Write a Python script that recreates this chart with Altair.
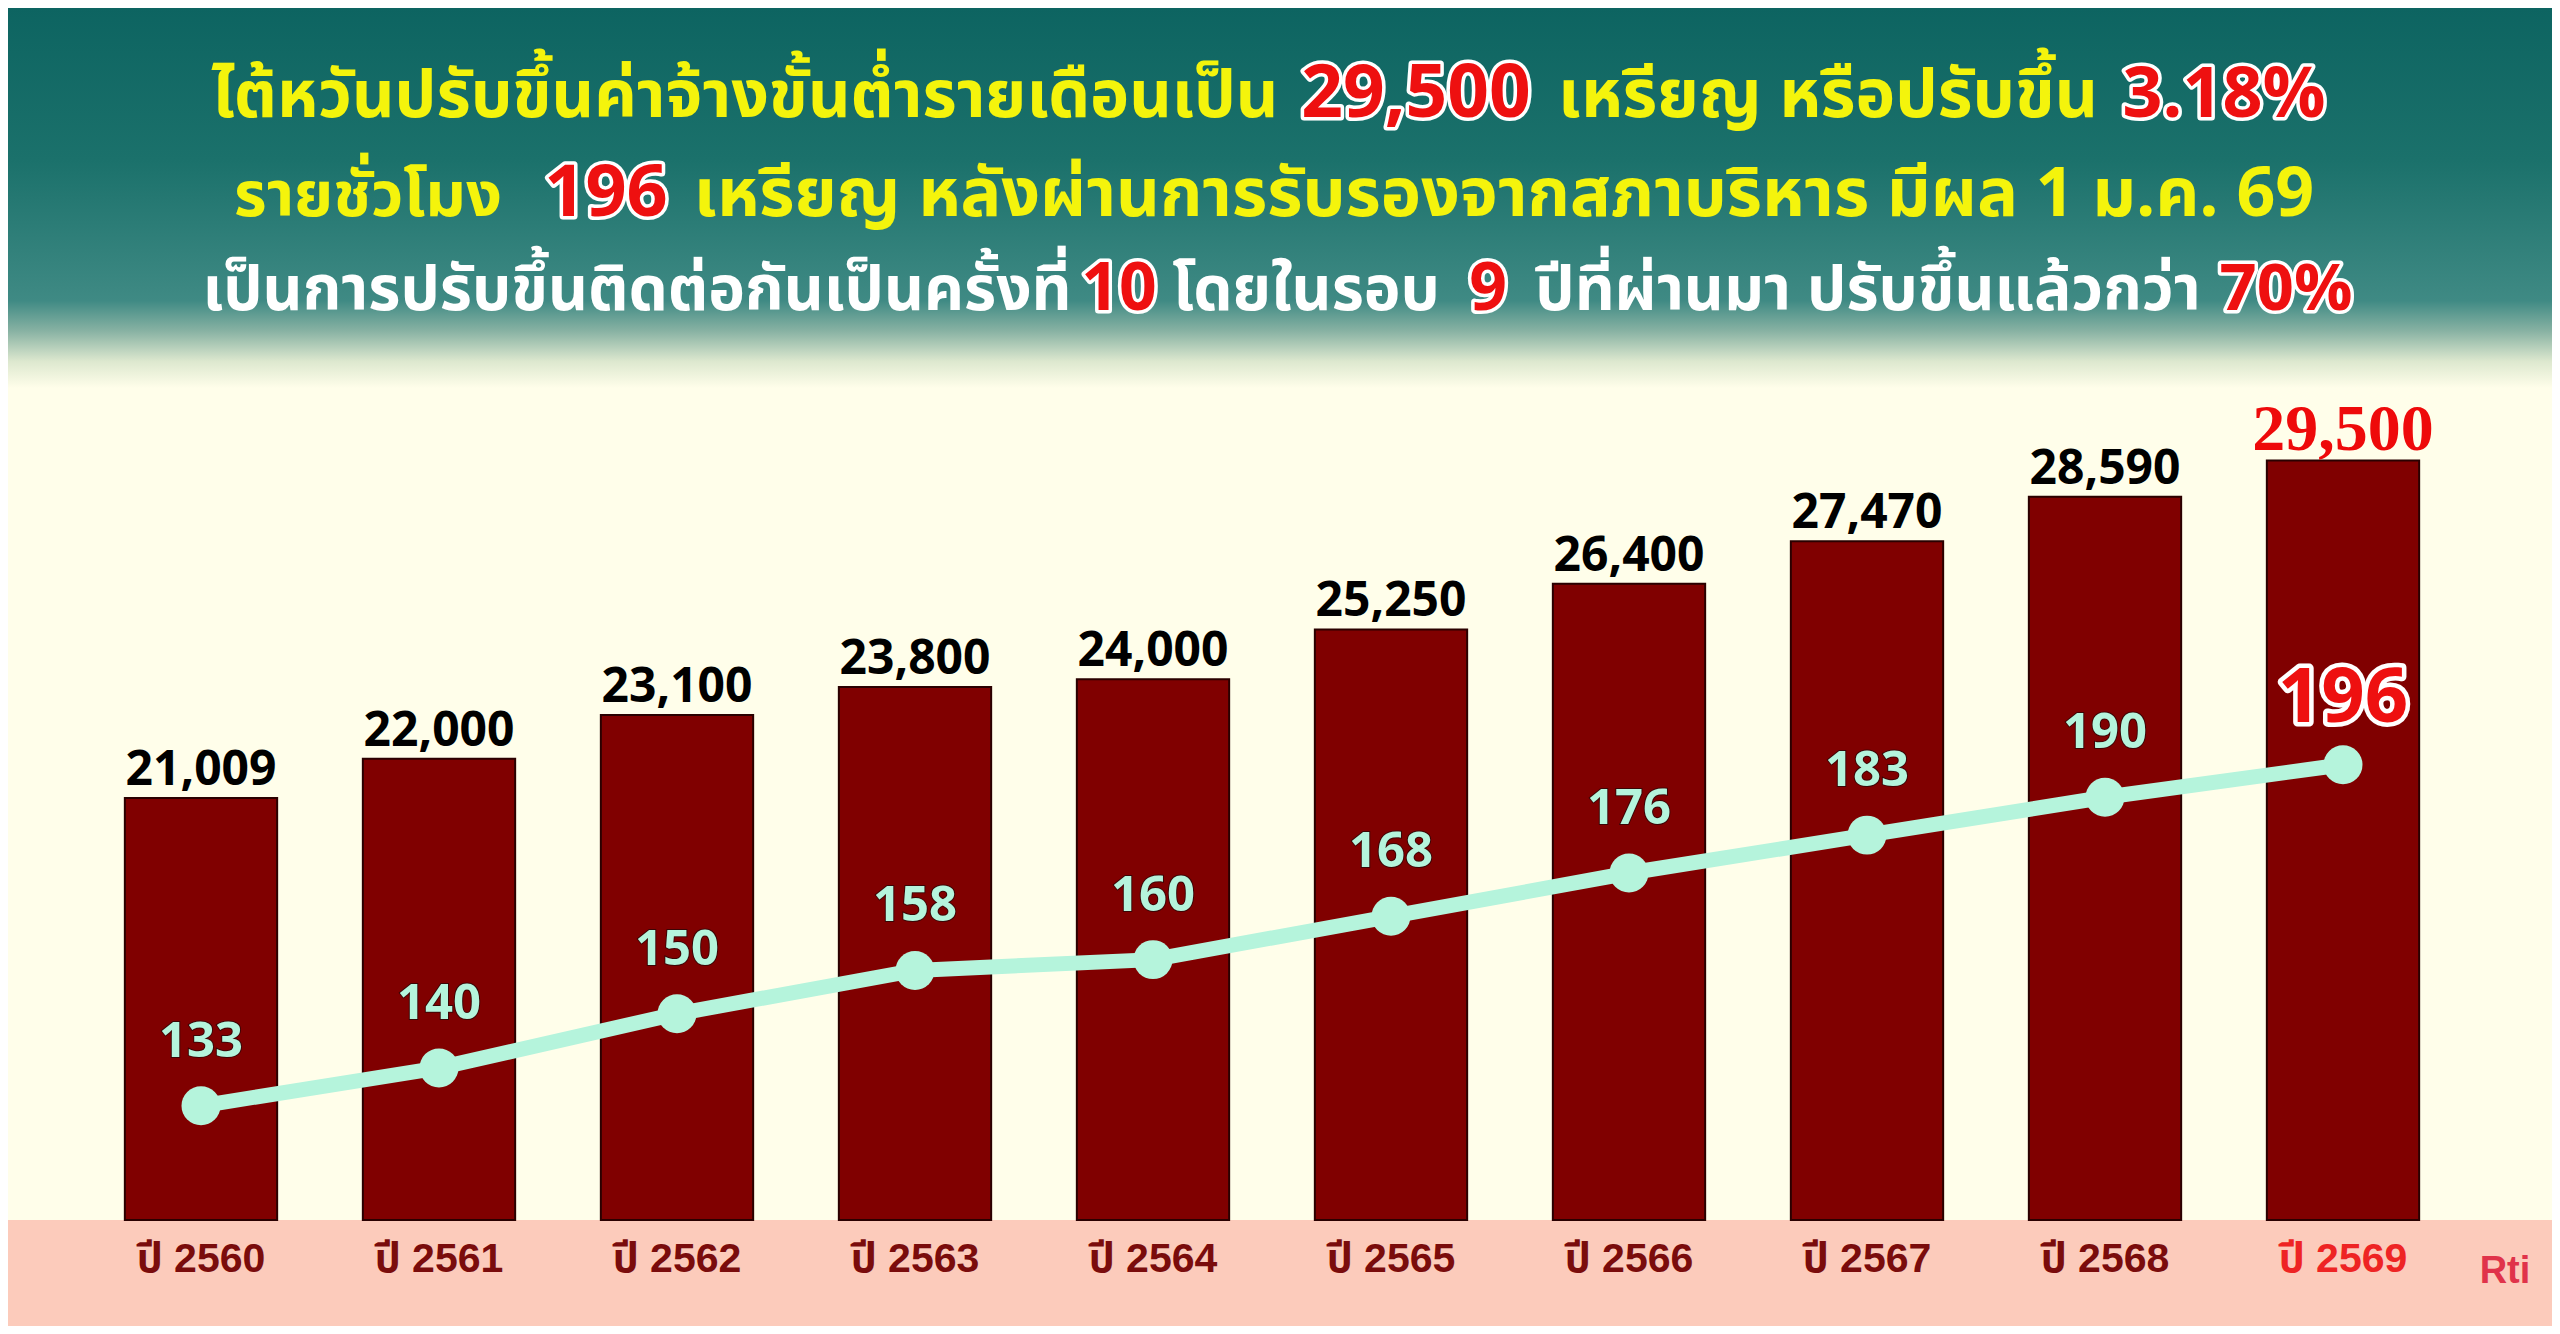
import altair as alt
import pandas as pd

# ---------------- data ----------------
years = ["ปี 2560", "ปี 2561", "ปี 2562", "ปี 2563", "ปี 2564",
         "ปี 2565", "ปี 2566", "ปี 2567", "ปี 2568", "ปี 2569"]
monthly_wage = [21009, 22000, 23100, 23800, 24000, 25250, 26400, 27470, 28590, 29500]
hourly_wage = [133, 140, 150, 158, 160, 168, 176, 183, 190, 196]
highlight = [False] * 9 + [True]

title_line1 = [("ไต้หวันปรับขึ้นค่าจ้างขั้นต่ำรายเดือนเป็น", "yellow"), ("29,500", "red"),
               ("เหรียญ หรือปรับขึ้น", "yellow"), ("3.18%", "red")]
title_line2 = [("รายชั่วโมง", "yellow"), ("196", "red"),
               ("เหรียญ หลังผ่านการรับรองจากสภาบริหาร มีผล 1 ม.ค. 69", "yellow")]
title_line3 = [("เป็นการปรับขึ้นติดต่อกันเป็นครั้งที่", "white"), ("10", "red"),
               ("โดยในรอบ", "white"), ("9", "red"),
               ("ปีที่ผ่านมา ปรับขึ้นแล้วกว่า", "white"), ("70%", "red")]
logo_text = "Rti"
BAR_FLOOR = 10391  # value at the bottom edge of the bars (axis does not start at zero)

df = pd.DataFrame({"year": years, "monthly": monthly_wage,
                   "hourly": hourly_wage, "last": highlight})
one = pd.DataFrame({"k": [0]})

# ---------------- layout ----------------
W, H = 2544, 1318
BASE = 1212
COL = {"yellow": "#f4f40c", "red": "#ee1010", "white": "#ffffff"}
THAI = "Noto Sans Thai, Noto Sans Thai UI, Loma, Garuda, Noto Sans, sans-serif"
NUM = "Open Sans, Noto Sans, sans-serif"
MINT = "#b5f4dc"

xs = alt.X("year:N", sort=years, axis=None,
           scale=alt.Scale(range=[74, 2454], paddingInner=0.36, paddingOuter=0.18))
ybar = alt.Scale(domain=[BAR_FLOOR, 30000], range=[BASE, 432.7], zero=False, nice=False)
yline = alt.Scale(domain=[111.9, 200], range=[BASE, 735.1], zero=False, nice=False)

# backgrounds
grad = alt.LinearGradient(
    gradient="linear", x1=0, x2=0, y1=0, y2=1,
    stops=[alt.GradientStop(color="#0d6461", offset=0),
           alt.GradientStop(color="#1b716b", offset=0.40),
           alt.GradientStop(color="#3f8a84", offset=0.77),
           alt.GradientStop(color="#88b2a3", offset=0.85),
           alt.GradientStop(color="#dde8cf", offset=0.93),
           alt.GradientStop(color="#fffeea", offset=1.0)])
top_bg = alt.Chart(one).mark_rect(color=grad).encode(
    x=alt.value(0), x2=alt.value(W), y=alt.value(0), y2=alt.value(380))
band_bg = alt.Chart(one).mark_rect(color="#fccbbb").encode(
    x=alt.value(0), x2=alt.value(W), y=alt.value(BASE), y2=alt.value(H))

base = alt.Chart(df)

bars = base.mark_bar(color="#800000", stroke="#2a0000", strokeWidth=2).encode(
    x=xs, y=alt.Y("monthly:Q", scale=ybar, axis=None), y2=alt.datum(BAR_FLOOR))

bar_labels = base.transform_filter("!datum.last").mark_text(
    font=NUM, fontWeight="bold", fontSize=48, color="#000000",
    baseline="alphabetic", dy=-13).encode(
    x=xs, y=alt.Y("monthly:Q", scale=ybar, axis=None),
    text=alt.Text("monthly:Q", format=","))

last_bar_label = base.transform_filter("datum.last").mark_text(
    font="Liberation Serif, Times New Roman, serif", fontWeight="bold", fontSize=66,
    color="#ee0a0a", baseline="alphabetic", dy=-11).encode(
    x=xs, y=alt.Y("monthly:Q", scale=ybar, axis=None),
    text=alt.Text("monthly:Q", format=","))

line = base.mark_line(color=MINT, strokeWidth=15).encode(
    x=xs, y=alt.Y("hourly:Q", scale=yline, axis=None))
pts = base.mark_circle(color=MINT, size=1520, opacity=1).encode(
    x=xs, y=alt.Y("hourly:Q", scale=yline, axis=None))

line_labels_outline = base.transform_filter("!datum.last").mark_text(
    font=NUM, fontWeight="bold", fontSize=49, color=MINT, stroke="#3a0606",
    strokeWidth=2, baseline="alphabetic", dy=-49).encode(
    x=xs, y=alt.Y("hourly:Q", scale=yline, axis=None), text="hourly:Q")
line_labels = base.transform_filter("!datum.last").mark_text(
    font=NUM, fontWeight="bold", fontSize=49, color=MINT,
    baseline="alphabetic", dy=-49).encode(
    x=xs, y=alt.Y("hourly:Q", scale=yline, axis=None), text="hourly:Q")

last_line_outline = base.transform_filter("datum.last").mark_text(
    font=NUM, fontWeight="bold", fontSize=76, color="#ffffff", stroke="#ffffff",
    strokeWidth=9, strokeJoin="round", baseline="alphabetic", dy=-43).encode(
    x=xs, y=alt.Y("hourly:Q", scale=yline, axis=None), text="hourly:Q")
last_line_label = base.transform_filter("datum.last").mark_text(
    font=NUM, fontWeight="bold", fontSize=76, color="#ee1010",
    baseline="alphabetic", dy=-43).encode(
    x=xs, y=alt.Y("hourly:Q", scale=yline, axis=None), text="hourly:Q")

x_labels = base.mark_text(
    font="Liberation Sans, Noto Sans Thai, Arial, sans-serif", fontWeight="bold",
    fontSize=41, baseline="alphabetic").encode(
    x=xs, y=alt.value(1264), text="year:N",
    color=alt.condition("datum.last", alt.value("#ee2424"), alt.value("#7a0c0c")))

logo = alt.Chart(one).mark_text(
    text=logo_text, font="Liberation Sans Narrow, Liberation Sans, sans-serif",
    fontWeight="bold", fontSize=38, color="#e0334a", baseline="alphabetic").encode(
    x=alt.value(2497), y=alt.value(1275))


def seg_layers(segs, centers, sizes, ybase):
    out = []
    for (txt, c), cx, size in zip(segs, centers, sizes):
        if c == "red":
            out.append(alt.Chart(one).mark_text(
                text=txt, font=THAI, fontWeight="bold", fontSize=size, color="#ffffff",
                stroke="#ffffff", strokeWidth=7, strokeJoin="round",
                baseline="alphabetic", align="center").encode(
                x=alt.value(cx), y=alt.value(ybase)))
        out.append(alt.Chart(one).mark_text(
            text=txt, font=THAI, fontWeight="bold", fontSize=size, color=COL[c],
            baseline="alphabetic", align="center").encode(
            x=alt.value(cx), y=alt.value(ybase)))
    return out


title_layers = []
title_layers += seg_layers(title_line1, [737, 1408, 1820, 2216], [66, 73, 67, 70], 109)
title_layers += seg_layers(title_line2, [360, 598, 1496], [63, 72, 68], 208)
title_layers += seg_layers(title_line3, [629, 1111, 1298, 1480, 1860, 2278],
                           [62, 66, 62, 66, 62, 65], 302)

chart = alt.layer(
    top_bg, band_bg, bars, bar_labels, last_bar_label, line, pts,
    line_labels_outline, line_labels, last_line_outline, last_line_label,
    x_labels, logo, *title_layers
).resolve_scale(y="independent").properties(
    width=W, height=H, background="#fffeea", padding=0,
    autosize=alt.AutoSizeParams(type="none")
).configure_view(stroke=None)

chart.save("out.html", embed_options={"renderer": "svg", "actions": False})
